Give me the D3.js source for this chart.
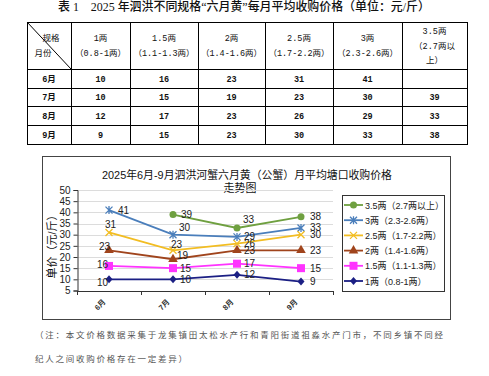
<!DOCTYPE html>
<html><head><meta charset="utf-8">
<script src="https://cdn.jsdelivr.net/npm/d3@7/dist/d3.min.js"></script>
<style>
html,body{margin:0;padding:0;background:#fff;}
svg{display:block;}
</style></head>
<body>
<svg id="c" width="489" height="376"></svg>
<script>
// ---------- data ----------
const months = ["6月","7月","8月","9月"];
const seriesNames = ["3.5两（2.7两以上）","3两（2.3-2.6两）","2.5两（1.7-2.2两）","2两（1.4-1.6两）","1.5两（1.1-1.3两）","1两（0.8-1两）"];
const price35 = [null,39,33,38];
const price3  = [41,30,29,33];
const price25 = [31,23,26,30];
const price2  = [23,19,23,23];
const price15 = [16,15,17,15];
const price1  = [10,10,12,9];
const yTicks = [5,10,15,20,25,30,35,40,45,50];
const tableHeaders = [["1两","（0.8-1两）"],["1.5两","（1.1-1.3两）"],["2两","（1.4-1.6两）"],["2.5两","（1.7-2.2两）"],["3两","（2.3-2.6两）"],["3.5两","（2.7两以","上）"]];
const tableTitle = "表 1    2025 年泗洪不同规格“六月黄”每月平均收购价格（单位：元/斤）";
const chartTitle1 = "2025年6月-9月泗洪河蟹六月黄（公蟹）月平均塘口收购价格";
const chartTitle2 = "走势图";
const yTitle = "单价（元/斤）";
const note1 = "（注：本文价格数据采集于龙集镇田太松水产行和青阳街道祖淼水产门市，不同乡镇不同经";
const note2 = "纪人之间收购价格存在一定差异）";

// ---------- styles ----------
const seriesValues = [price35,price3,price25,price2,price15,price1];
const colors = ["#6fa040","#4a7ebb","#f2bd22","#a0441c","#ff33ff","#1b1f84"];
const markers = ["circle","star","x","triangle","square","diamond"];
// label offsets [dx,dy] keyed "series-month"
const labelOffsets = {
  "1-0":[9,0],"2-0":[-4,-8],"3-0":[-10,-4],"4-0":[-12,-1],"5-0":[-12,3],
  "1-1":[6,-7],"2-1":[-2,-6],"3-1":[4,-4],"0-2":[6,-8],"0-1":[8,0]
};

const svg = d3.select("#c");
const CJK = "'Liberation Sans','Noto Sans CJK SC',sans-serif";
const MONO = "'Liberation Mono','Noto Sans CJK SC',monospace";

// ---------- table title ----------
svg.append("text").attr("x",58).attr("y",11)
  .style("white-space","pre").attr("xml:space","preserve")
  .attr("font-family","'Liberation Serif','Noto Sans CJK SC',serif")
  .attr("font-size",12).attr("font-weight",500).attr("fill","#111")
  .attr("textLength",372).attr("lengthAdjust","spacingAndGlyphs")
  .text(tableTitle);

// ---------- table ----------
const colEdges = [27,71,130,198,265,333,402,467];
const rowEdges = [22,69,88,106,125,144];
const tg = svg.append("g").attr("stroke","#000").attr("stroke-width",1);
colEdges.forEach(x=>tg.append("line").attr("x1",x+0.5).attr("x2",x+0.5).attr("y1",rowEdges[0]).attr("y2",rowEdges[rowEdges.length-1]));
rowEdges.forEach(y=>tg.append("line").attr("x1",colEdges[0]).attr("x2",colEdges[colEdges.length-1]+1).attr("y1",y+0.5).attr("y2",y+0.5));
tg.append("line").attr("x1",colEdges[0]).attr("y1",rowEdges[0]).attr("x2",colEdges[1]).attr("y2",rowEdges[1]);

const tt = svg.append("g").attr("font-family",MONO).attr("font-size",8.5).attr("fill","#111").attr("font-weight","bold");
tt.append("text").attr("x",51).attr("y",41).attr("text-anchor","middle").attr("font-weight","normal").text("规格");
tt.append("text").attr("x",43).attr("y",56).attr("text-anchor","middle").attr("font-weight","normal").text("月份");
tableHeaders.forEach((lines,i)=>{
  const cx=(colEdges[i+1]+colEdges[i+2])/2;
  const startY = lines.length===2 ? 41 : 34;
  const step = lines.length===2 ? 15 : 14.5;
  lines.forEach((t,j)=>tt.append("text").attr("x",cx).attr("y",startY+j*step).attr("text-anchor","middle").attr("font-weight","normal").text(t));
});
const tableCols = [price1,price15,price2,price25,price3,price35];
months.forEach((m,r)=>{
  const cy=(rowEdges[r+1]+rowEdges[r+2])/2+3;
  tt.append("text").attr("x",(colEdges[0]+colEdges[1])/2).attr("y",cy).attr("text-anchor","middle").text(m);
  tableCols.forEach((arr,c)=>{
    if(arr[r]==null) return;
    tt.append("text").attr("x",(colEdges[c+1]+colEdges[c+2])/2).attr("y",cy).attr("text-anchor","middle").text(arr[r]);
  });
});

// ---------- chart box ----------
svg.append("rect").attr("x",42.5).attr("y",156.5).attr("width",408).attr("height",163)
  .attr("fill","#fff").attr("stroke","#444").attr("stroke-width",1);

svg.append("text").attr("x",247).attr("y",179).attr("text-anchor","middle")
  .attr("font-family",CJK).attr("font-size",11).attr("fill","#111")
  .attr("textLength",290).attr("lengthAdjust","spacingAndGlyphs").text(chartTitle1);
svg.append("text").attr("x",240).attr("y",192).attr("text-anchor","middle")
  .attr("font-family",CJK).attr("font-size",11).attr("fill","#111").text(chartTitle2);

const x = d3.scaleBand().domain(months).range([77,333]);
const y = d3.scaleLinear().domain([5,50]).range([290.5,190]);

// gridlines
svg.append("g").selectAll("line").data(yTicks.filter(t=>t>5)).join("line")
  .attr("x1",77).attr("x2",333).attr("y1",d=>Math.round(y(d))+0.5).attr("y2",d=>Math.round(y(d))+0.5)
  .attr("stroke","#dcdcdc").attr("stroke-width",1);

// y axis
const ya = svg.append("g").attr("transform","translate(77.5,0)")
  .call(d3.axisLeft(y).tickValues(yTicks).tickSize(4).tickPadding(3));
ya.select(".domain").attr("stroke","#333");
ya.selectAll(".tick line").attr("stroke","#333");
ya.selectAll("text").attr("font-family",CJK).attr("font-size",10).attr("fill","#222");

// x axis
const xa = svg.append("g");
xa.append("line").attr("x1",77).attr("x2",333).attr("y1",Math.round(y(5))+0.5).attr("y2",Math.round(y(5))+0.5).attr("stroke","#333");
const edges = months.map(m=>x(m)).concat([x.range()[1]]);
xa.selectAll("line.t").data(edges).join("line").attr("class","t")
  .attr("x1",d=>Math.round(d)+0.5).attr("x2",d=>Math.round(d)+0.5)
  .attr("y1",Math.round(y(5))).attr("y2",Math.round(y(5))+4).attr("stroke","#333");
xa.selectAll("text").data(months).join("text")
  .attr("transform",d=>`translate(${x(d)+x.bandwidth()/2-3},${y(5)+12}) rotate(-45)`)
  .attr("text-anchor","end").attr("font-family",CJK).attr("font-size",7.5).attr("font-weight","bold").attr("fill","#333")
  .text(d=>d);

// y title
svg.append("text").attr("transform","translate(56,244) rotate(-90)").attr("text-anchor","middle")
  .attr("font-family",CJK).attr("font-size",11).attr("fill","#111").text(yTitle);

// marker drawing
function drawMarker(g, type, color, cx, cy){
  if(type==="circle") g.append("circle").attr("cx",cx).attr("cy",cy).attr("r",3.5).attr("fill",color);
  else if(type==="square") g.append("rect").attr("x",cx-4).attr("y",cy-4).attr("width",8).attr("height",8).attr("fill",color);
  else if(type==="triangle") g.append("path").attr("d",d3.symbol(d3.symbolTriangle,40)()).attr("transform",`translate(${cx},${cy})`).attr("fill",color);
  else if(type==="diamond") g.append("path").attr("d",`M${cx},${cy-4}L${cx+3.5},${cy}L${cx},${cy+4}L${cx-3.5},${cy}Z`).attr("fill",color);
  else if(type==="x") g.append("path").attr("d",`M${cx-3.5},${cy-3.5}L${cx+3.5},${cy+3.5}M${cx+3.5},${cy-3.5}L${cx-3.5},${cy+3.5}`).attr("stroke",color).attr("stroke-width",1.3).attr("fill","none");
  else if(type==="star") g.append("path").attr("d",`M${cx-3.5},${cy-3.5}L${cx+3.5},${cy+3.5}M${cx+3.5},${cy-3.5}L${cx-3.5},${cy+3.5}M${cx},${cy-4}L${cx},${cy+4}`).attr("stroke",color).attr("stroke-width",1.3).attr("fill","none");
}

// series
const line = d3.line().defined(d=>d.v!=null).x(d=>x(d.m)+x.bandwidth()/2).y(d=>y(d.v));
const plot = svg.append("g");
seriesValues.forEach((vals,si)=>{
  const pts = months.map((m,i)=>({m,v:vals[i],i}));
  plot.append("path").datum(pts).attr("d",line).attr("fill","none").attr("stroke",colors[si]).attr("stroke-width",1.8);
});
seriesValues.forEach((vals,si)=>{
  const g = plot.append("g");
  months.forEach((m,i)=>{
    if(vals[i]==null) return;
    drawMarker(g, markers[si], colors[si], x(m)+x.bandwidth()/2, y(vals[i]));
  });
});
seriesValues.forEach((vals,si)=>{
  months.forEach((m,i)=>{
    if(vals[i]==null) return;
    const off = labelOffsets[si+"-"+i] || (i===3 ? [9,0] : [7,0]);
    plot.append("text").attr("x",x(m)+x.bandwidth()/2+off[0]).attr("y",y(vals[i])+off[1]+3.5)
      .attr("font-family",CJK).attr("font-size",10).attr("fill","#222").text(vals[i]);
  });
});

// legend
svg.append("rect").attr("x",342.5).attr("y",195.5).attr("width",102).attr("height",96)
  .attr("fill","#fff").attr("stroke","#333");
seriesNames.forEach((n,si)=>{
  const ly = 205 + si*15.2;
  svg.append("line").attr("x1",344).attr("x2",363).attr("y1",ly).attr("y2",ly).attr("stroke",colors[si]).attr("stroke-width",1.8);
  drawMarker(svg, markers[si], colors[si], 353.5, ly);
  svg.append("text").attr("x",365).attr("y",ly+3.5).attr("font-family",CJK).attr("font-size",9).attr("fill","#222").text(n);
});

// note
svg.append("text").attr("x",35).attr("y",338).attr("font-family",CJK).attr("font-size",8.5).attr("fill","#555")
  .attr("textLength",408).attr("lengthAdjust","spacing").text(note1);
svg.append("text").attr("x",35).attr("y",362).attr("font-family",CJK).attr("font-size",8.5).attr("fill","#555")
  .attr("textLength",152).attr("lengthAdjust","spacing").text(note2);
</script>
</body></html>
